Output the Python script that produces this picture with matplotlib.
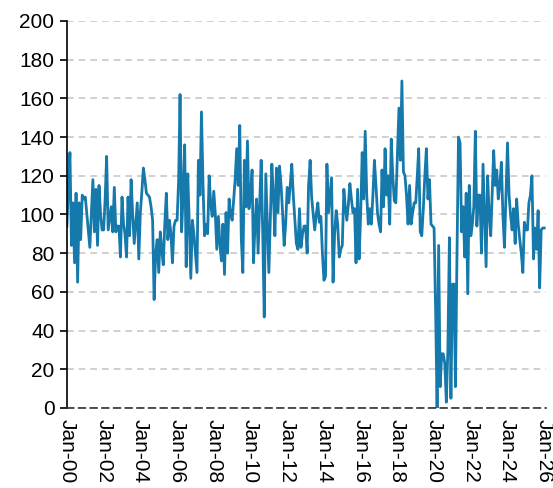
import matplotlib
matplotlib.use("Agg")
import matplotlib.pyplot as plt
import matplotlib.dates as mdates
import pandas as pd

plt.rcParams['font.family'] = ['Liberation Sans', 'DejaVu Sans']

# monthly index values, Jan 2000 onwards
y2000 = [94, 115, 132, 84, 106, 75, 111, 65, 106, 87, 110, 108]
y2001 = [109, 100, 92, 83, 100, 118, 91, 113, 84, 115, 100, 92]
y2002 = [92, 109, 130, 92, 98, 104, 91, 114, 91, 94, 94, 78]
y2003 = [109, 95, 90, 78, 109, 89, 118, 100, 85, 95, 106, 77]
y2004 = [101, 112, 124, 118, 111, 110, 109, 104, 97, 56, 80, 87]
y2005 = [70, 91, 82, 74, 95, 111, 87, 97, 90, 75, 94, 97]
y2006 = [97, 118, 162, 91, 110, 136, 73, 121, 95, 67, 97, 90]
y2007 = [80, 70, 128, 110, 153, 115, 89, 95, 90, 120, 105, 99]
y2008 = [112, 100, 82, 99, 85, 76, 95, 69, 101, 80, 108, 100]
y2009 = [97, 108, 118, 134, 115, 146, 88, 70, 128, 104, 138, 103]
y2010 = [110, 123, 75, 95, 108, 80, 105, 128, 90, 47, 121, 95]
y2011 = [70, 100, 126, 110, 89, 124, 101, 125, 115, 101, 84, 95]
y2012 = [114, 106, 115, 126, 110, 97, 85, 82, 103, 83, 90, 94]
y2013 = [94, 80, 115, 128, 109, 100, 92, 100, 106, 96, 99, 80]
y2014 = [66, 68, 126, 101, 110, 119, 65, 90, 102, 95, 78, 82]
y2015 = [84, 113, 104, 97, 105, 116, 108, 101, 103, 75, 113, 77]
y2016 = [100, 132, 108, 143, 110, 95, 103, 95, 110, 128, 115, 101]
y2017 = [95, 91, 123, 104, 134, 110, 120, 95, 139, 120, 107, 106]
y2018 = [130, 155, 128, 169, 122, 120, 110, 95, 115, 95, 101, 106]
y2019 = [106, 120, 134, 91, 89, 103, 120, 134, 108, 118, 95, 94]
y2020 = [93, 50, 0, 84, 11, 28, 28, 23, 3, 30, 88, 5]
y2021 = [64, 64, 11, 80, 140, 137, 91, 104, 78, 111, 59, 115]
y2022 = [89, 95, 104, 143, 94, 110, 110, 80, 126, 100, 73, 120]
y2023 = [100, 89, 110, 133, 115, 123, 108, 115, 127, 100, 83, 110]
y2024 = [137, 110, 100, 92, 103, 85, 108, 95, 87, 80, 70, 96]
y2025 = [92, 92, 106, 110, 120, 77, 93, 82, 102, 62, 92, 93]
y2026 = [93]

values = (y2000 + y2001 + y2002 + y2003 + y2004 + y2005 + y2006 + y2007 + y2008
          + y2009 + y2010 + y2011 + y2012 + y2013 + y2014 + y2015 + y2016 + y2017
          + y2018 + y2019 + y2020 + y2021 + y2022 + y2023 + y2024 + y2025 + y2026)
dates = pd.date_range("2000-01-01", periods=len(values), freq="MS")

fig = plt.figure(figsize=(5.53, 4.88), dpi=100)
ax = fig.add_axes([0.121, 0.164, 0.866, 0.793])

ax.plot(dates, values, color='#1679ab', linewidth=2.0)

ax.set_ylim(0, 200)
ax.set_yticks(range(0, 201, 20))
ax.set_xlim(pd.Timestamp("2000-01-01"), pd.Timestamp("2026-02-01"))
ax.xaxis.set_major_locator(mdates.YearLocator(2))
ax.xaxis.set_major_formatter(mdates.DateFormatter('%b-%y'))

# grid and axes
ax.grid(axis='y', color='#c8c8c8', linestyle=(0, (4, 3)), linewidth=1.2)
ax.set_axisbelow(True)
for s in ['top', 'right']:
    ax.spines[s].set_visible(False)
ax.spines['left'].set_color('black')
ax.spines['left'].set_linewidth(1.2)
ax.spines['bottom'].set_color('#333333')
ax.spines['bottom'].set_linestyle((0, (4, 3)))
ax.spines['bottom'].set_linewidth(1.2)

ax.tick_params(axis='y', labelsize=15, length=5, width=1.2, color='black', pad=4)
ax.tick_params(axis='x', labelsize=15, length=0, pad=8, labelrotation=-90)

plt.savefig('out.png', dpi=100)
